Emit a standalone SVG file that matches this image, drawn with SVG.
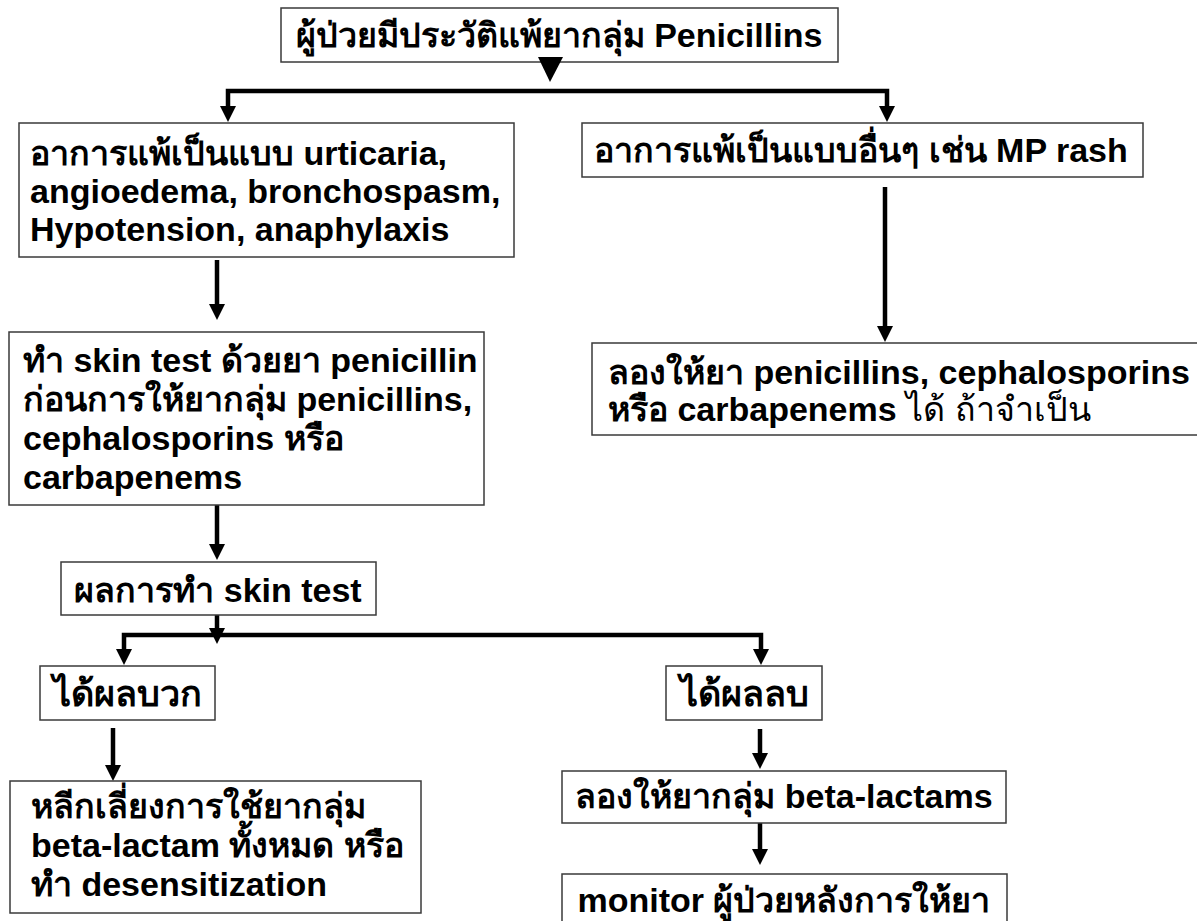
<svg xmlns="http://www.w3.org/2000/svg" width="1197" height="921" viewBox="0 0 1197 921">
  <style>
    .box { fill: #ffffff; stroke: #3a3a3a; stroke-width: 1.5; }
    .lbl { font-family: "Liberation Sans", Arial, "Noto Sans", sans-serif; font-size: 34px; font-weight: bold; fill: #000000; }
    .mid { text-anchor: middle; }
    .big { font-size: 36px; }
    .thin { font-weight: normal; }
    .wire { fill: none; stroke: #000000; stroke-width: 4.5; stroke-linejoin: miter; }
  </style>
  <defs>
    <marker id="head" viewBox="0 0 16 16" refX="6" refY="8" markerWidth="16" markerHeight="16" markerUnits="userSpaceOnUse" orient="auto-start-reverse">
      <path d="M0,0 L16,8 L0,16 z" fill="#000000"/>
    </marker>
  </defs>

  <rect width="1197" height="921" fill="#ffffff"/>

  <!-- connectors -->
  <g id="connectors">
    <path class="wire" d="M228,112 V91 H887 V112" marker-start="url(#head)" marker-end="url(#head)"/>
    <path class="wire" d="M217,260 V310" marker-end="url(#head)"/>
    <path class="wire" d="M885,187 V332" marker-end="url(#head)"/>
    <path class="wire" d="M217,505 V550" marker-end="url(#head)"/>
    <path class="wire" d="M217,615 V634" marker-end="url(#head)"/>
    <path class="wire" d="M124,655 V635 H761 V655" marker-start="url(#head)" marker-end="url(#head)"/>
    <path class="wire" d="M113,728 V771" marker-end="url(#head)"/>
    <path class="wire" d="M760,729 V759" marker-end="url(#head)"/>
    <path class="wire" d="M760,823 V855" marker-end="url(#head)"/>
  </g>

  <!-- start node -->
  <g id="history">
    <rect class="box" x="281" y="8" width="557" height="54"/>
    <text class="lbl mid" x="559" y="47">ผู้ป่วยมีประวัติแพ้ยากลุ่ม Penicillins</text>
  </g>
  <!-- arrowhead leaving the start node -->
  <polygon id="start-head" points="538,57 563,57 550,82" fill="#000000"/>

  <g id="severe">
    <rect class="box" x="19" y="123" width="495" height="134"/>
    <text class="lbl">
      <tspan x="30" y="165">อาการแพ้เป็นแบบ urticaria,</tspan>
      <tspan x="30" y="203">angioedema, bronchospasm,</tspan>
      <tspan x="30" y="241">Hypotension, anaphylaxis</tspan>
    </text>
  </g>

  <g id="mild">
    <rect class="box" x="582" y="123" width="561" height="54"/>
    <text class="lbl mid" x="861" y="162">อาการแพ้เป็นแบบอื่นๆ เช่น MP rash</text>
  </g>

  <g id="skin-test">
    <rect class="box" x="9" y="332" width="475" height="173"/>
    <text class="lbl">
      <tspan x="23" y="372">ทำ skin test ด้วยยา penicillin</tspan>
      <tspan x="23" y="411">ก่อนการให้ยากลุ่ม penicillins,</tspan>
      <tspan x="23" y="450">cephalosporins หรือ</tspan>
      <tspan x="23" y="489">carbapenems</tspan>
    </text>
  </g>

  <g id="try-drug">
    <rect class="box" x="592" y="343" width="620" height="92"/>
    <text class="lbl">
      <tspan x="608" y="384">ลองให้ยา penicillins, cephalosporins</tspan>
      <tspan x="608" y="421">หรือ carbapenems <tspan class="thin">ได้ ถ้าจำเป็น</tspan></tspan>
    </text>
  </g>

  <g id="result">
    <rect class="box" x="61" y="562" width="315" height="53"/>
    <text class="lbl mid" x="218" y="602">ผลการทำ skin test</text>
  </g>

  <g id="positive">
    <rect class="box" x="40" y="666" width="175" height="54"/>
    <text class="lbl mid big" x="127" y="706">ได้ผลบวก</text>
  </g>

  <g id="negative">
    <rect class="box" x="666" y="666" width="156" height="54"/>
    <text class="lbl mid big" x="744" y="706">ได้ผลลบ</text>
  </g>

  <g id="avoid">
    <rect class="box" x="10" y="781" width="411" height="132"/>
    <text class="lbl">
      <tspan x="31" y="818">หลีกเลี่ยงการใช้ยากลุ่ม</tspan>
      <tspan x="31" y="857">beta-lactam ทั้งหมด หรือ</tspan>
      <tspan x="31" y="896">ทำ desensitization</tspan>
    </text>
  </g>

  <g id="challenge">
    <rect class="box" x="562" y="771" width="444" height="52"/>
    <text class="lbl mid" x="784" y="808">ลองให้ยากลุ่ม beta-lactams</text>
  </g>

  <g id="monitor">
    <rect class="box" x="562" y="874" width="445" height="60"/>
    <text class="lbl mid" x="784" y="912">monitor ผู้ป่วยหลังการให้ยา</text>
  </g>
</svg>
